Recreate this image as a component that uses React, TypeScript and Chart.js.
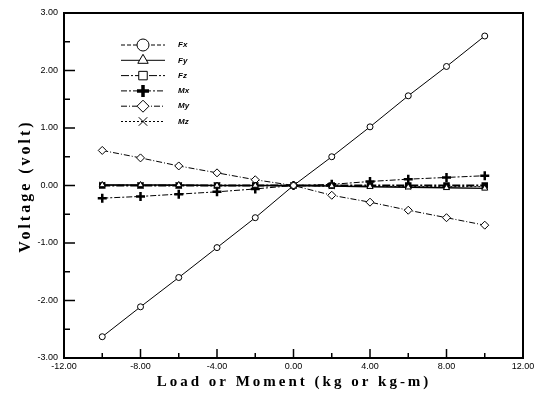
import React, { useEffect, useRef } from "react";
import { Chart, registerables } from "chart.js";
import { drawPoint } from "chart.js/helpers";

Chart.register(...registerables);

const loads = [-10, -8, -6, -4, -2, 0, 2, 4, 6, 8, 10];
const fxValues = [-2.63, -2.11, -1.6, -1.08, -0.56, 0, 0.5, 1.02, 1.56, 2.07, 2.6];
const fyValues = [0.01, 0.01, 0.01, 0.0, 0.0, 0, -0.01, -0.02, -0.03, -0.04, -0.05];
const fzValues = [0, 0, 0, 0, 0, 0, 0, 0, 0, 0, 0];
const mxValues = [-0.22, -0.19, -0.15, -0.11, -0.06, 0, 0.02, 0.07, 0.11, 0.14, 0.17];
const myValues = [0.61, 0.48, 0.34, 0.22, 0.1, 0, -0.17, -0.29, -0.43, -0.56, -0.69];
const mzValues = [0.01, 0, 0, 0, 0, 0, -0.01, -0.01, -0.02, -0.02, -0.02];

const seriesNames = ["Fx", "Fy", "Fz", "Mx", "My", "Mz"];
const xTickValues = [-12, -8, -4, 0, 4, 8, 12];
const xMinorTickValues = [-10, -6, -2, 2, 6, 10];
const yTickValues = [-3, -2, -1, 0, 1, 2, 3];
const yMinorTickValues = [-2.5, -1.5, -0.5, 0.5, 1.5, 2.5];
const xTitle = "Load or Moment (kg or kg-m)";
const yTitle = "Voltage (volt)";

const toPts = (vals: number[]) => vals.map((v, i) => ({ x: loads[i], y: v }));

const styles = [
  { pointStyle: "circle", radius: 3, dash: [4, 2], bw: 1, fill: "#fff", lw: 1 },
  { pointStyle: "triangle", radius: 3.5, dash: [], bw: 1, fill: "#fff", lw: 1.5 },
  { pointStyle: "rect", radius: 3.5, dash: [8, 2, 2, 2], bw: 1.5, fill: "#000", lw: 2 },
  { pointStyle: "cross", radius: 4.5, dash: [6, 2, 2, 2], bw: 2.5, fill: "#000", lw: 1 },
  { pointStyle: "rectRot", radius: 4, dash: [6, 2, 1, 2], bw: 1, fill: "#fff", lw: 1 },
  { pointStyle: "crossRot", radius: 4, dash: [2, 2], bw: 1, fill: "#fff", lw: 1 },
];

const framePlugin = {
  id: "frame",
  afterDatasetsDraw(chart: any) {
    const { ctx, chartArea: a, scales } = chart;
    const x = scales.x;
    const y = scales.y;
    ctx.save();
    ctx.strokeStyle = "#000";
    ctx.lineWidth = 2;
    ctx.strokeRect(a.left, a.top, a.right - a.left, a.bottom - a.top);
    ctx.lineWidth = 1.5;
    ctx.beginPath();
    xTickValues.forEach((v) => {
      const px = x.getPixelForValue(v);
      ctx.moveTo(px, a.bottom);
      ctx.lineTo(px, a.bottom - 9);
    });
    xMinorTickValues.forEach((v) => {
      const px = x.getPixelForValue(v);
      ctx.moveTo(px, a.bottom);
      ctx.lineTo(px, a.bottom - 5);
    });
    yTickValues.forEach((v) => {
      const py = y.getPixelForValue(v);
      ctx.moveTo(a.left, py);
      ctx.lineTo(a.left + 11, py);
    });
    yMinorTickValues.forEach((v) => {
      const py = y.getPixelForValue(v);
      ctx.moveTo(a.left, py);
      ctx.lineTo(a.left + 6, py);
    });
    ctx.stroke();

    // legend
    chart.data.datasets.forEach((ds: any, i: number) => {
      const st = styles[i];
      const ly = 45 + i * 15.3;
      ctx.save();
      ctx.strokeStyle = "#000";
      ctx.lineWidth = 1;
      ctx.setLineDash(st.dash);
      ctx.beginPath();
      ctx.moveTo(121, ly);
      ctx.lineTo(165, ly);
      ctx.stroke();
      ctx.setLineDash([]);
      ctx.fillStyle = i === 3 ? "#000" : "#fff";
      ctx.lineWidth = i === 3 ? 3.5 : 1;
      drawPoint(
        ctx,
        { pointStyle: st.pointStyle, radius: 6, rotation: 0, borderWidth: ctx.lineWidth } as any,
        143,
        ly
      );
      ctx.restore();
      ctx.fillStyle = "#000";
      ctx.font = 'italic bold 8px "Liberation Sans"';
      ctx.textAlign = "left";
      ctx.textBaseline = "middle";
      ctx.fillText(ds.label, 178, ly);
    });

    // titles
    ctx.fillStyle = "#000";
    ctx.font = 'bold 15px "Liberation Serif"';
    (ctx as any).letterSpacing = "3px";
    ctx.textAlign = "center";
    ctx.textBaseline = "middle";
    ctx.fillText(xTitle, 294, 382);
    ctx.translate(26, 186);
    ctx.rotate(-Math.PI / 2);
    ctx.font = 'bold 16px "Liberation Serif"';
    ctx.fillText(yTitle, 0, 0);
    ctx.restore();
  },
};

export default function App() {
  const ref = useRef<HTMLCanvasElement | null>(null);
  useEffect(() => {
    document.body.style.margin = "0";
    if (!ref.current) return;
    const datasets = [fxValues, fyValues, fzValues, mxValues, myValues, mzValues].map((vals, i) => ({
      label: seriesNames[i],
      data: toPts(vals),
      borderColor: "#000",
      borderWidth: styles[i].lw,
      borderDash: i === 0 ? [] : styles[i].dash,
      pointStyle: styles[i].pointStyle,
      pointRadius: styles[i].radius,
      pointBorderWidth: styles[i].bw,
      pointBorderColor: "#000",
      pointBackgroundColor: styles[i].fill,
      fill: false,
      tension: 0,
    }));
    const chart = new Chart(ref.current, {
      type: "line",
      data: { datasets: datasets as any },
      options: {
        animation: false,
        responsive: false,
        layout: { padding: { left: 0, top: 13, right: 21, bottom: 0 } },
        plugins: { legend: { display: false }, tooltip: { enabled: false }, title: { display: false } },
        scales: {
          x: {
            type: "linear",
            min: -12,
            max: 12,
            afterBuildTicks: (s: any) => {
              s.ticks = xTickValues.map((v) => ({ value: v }));
            },
            afterFit: (s: any) => {
              s.height = 38;
            },
            ticks: {
              callback: (v: any) => Number(v).toFixed(2),
              font: { size: 9, family: '"Liberation Sans"' },
              color: "#000",
              padding: 3,
              maxRotation: 0,
              autoSkip: false,
            },
            grid: { display: false, drawTicks: false },
            border: { display: false },
          },
          y: {
            type: "linear",
            min: -3,
            max: 3,
            afterBuildTicks: (s: any) => {
              s.ticks = yTickValues.map((v) => ({ value: v }));
            },
            afterFit: (s: any) => {
              s.width = 64;
            },
            ticks: {
              callback: (v: any) => Number(v).toFixed(2),
              font: { size: 9, family: '"Liberation Sans"' },
              color: "#000",
              padding: 6,
              autoSkip: false,
            },
            grid: { display: false, drawTicks: false },
            border: { display: false },
          },
        },
      },
      plugins: [framePlugin],
    });
    return () => chart.destroy();
  }, []);
  return (
    <div style={{ width: 544, height: 396, background: "#fff" }}>
      <canvas ref={ref} width={544} height={396} style={{ display: "block" }} />
    </div>
  );
}
